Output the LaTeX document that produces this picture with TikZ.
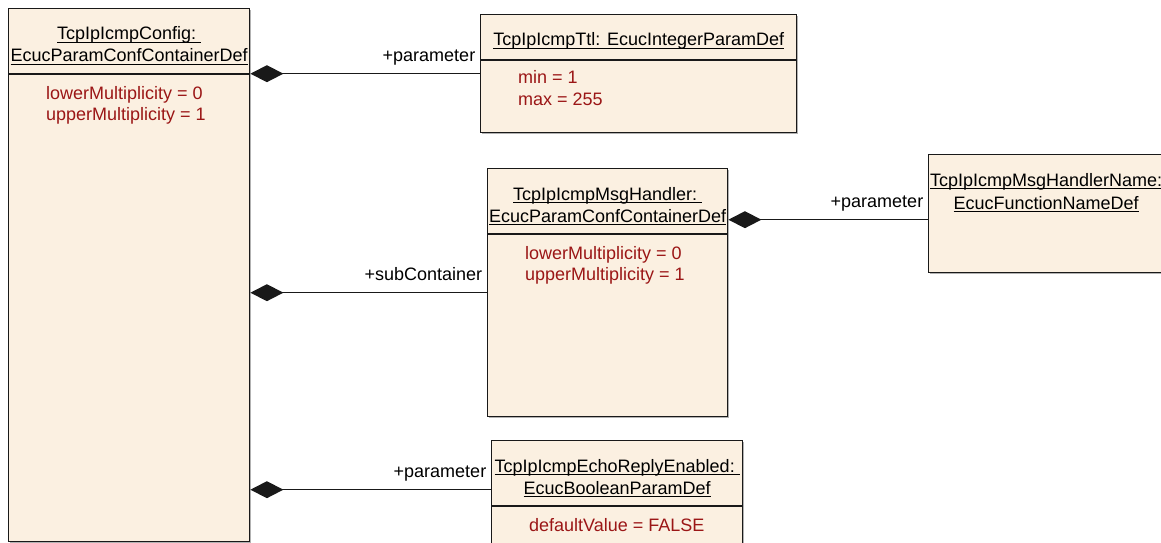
\documentclass[tikz,border=0pt]{standalone}
\usepackage{fontspec}
\setmainfont{Liberation Sans}
\usetikzlibrary{arrows.meta,shadows}

\definecolor{boxfill}{RGB}{251,240,225}
\definecolor{attrred}{RGB}{155,22,22}
\newsavebox{\umlbox}
\newcommand{\umlul}[1]{\sbox{\umlbox}{#1}\rlap{\rule[-3pt]{\wd\umlbox}{1pt}}\usebox{\umlbox}}

\tikzset{
  classbox/.style={draw=black!90, line width=1.4pt, fill=boxfill, anchor=north west,
    inner sep=0pt, drop shadow={shadow xshift=1.5pt, shadow yshift=-1.5pt, fill=black!60}},
  sep/.style={line width=1.4pt, draw=black!90},
  umltitle/.style={anchor=base, inner sep=0pt, font=\fontsize{18}{22}\selectfont},
  umlattr/.style={anchor=base west, inner sep=0pt, text=attrred, font=\fontsize{18}{22}\selectfont},
  role/.style={anchor=base east, inner sep=0pt, xshift=-4pt, yshift=12pt, font=\fontsize{18}{22}\selectfont},
  comp/.style={{Diamond[length=33pt,width=17pt]}-, line width=1.5pt, draw=black!90}
}

\begin{document}
\begin{tikzpicture}[x=1pt,y=-1pt]
\useasboundingbox (0,0) rectangle (1161,543);
\clip (0,0) rectangle (1161,543);

% classes
\node[classbox, minimum width=241pt, minimum height=533pt] (config) at (8,8) {};
\node[classbox, minimum width=316pt, minimum height=118pt] (ttl) at (480,14) {};
\node[classbox, minimum width=240pt, minimum height=248pt] (msg) at (487,168) {};
\node[classbox, minimum width=235pt, minimum height=118pt] (name) at (928,154) {};
\node[classbox, minimum width=251pt, minimum height=110pt] (echo) at (491,440) {};

% compartments
\draw[sep] ([yshift=-66pt]config.north west) -- ([yshift=-66pt]config.north east);
\draw[sep] ([yshift=-46pt]ttl.north west) -- ([yshift=-46pt]ttl.north east);
\draw[sep] ([yshift=-66pt]msg.north west) -- ([yshift=-66pt]msg.north east);
\draw[sep] ([yshift=-66pt]echo.north west) -- ([yshift=-66pt]echo.north east);

% names
\node[umltitle] (configT1) at ([yshift=-32pt]config.north) {\umlul{TcpIpIcmpConfig:~}};
\node[umltitle] (configT2) at ([yshift=-54pt]config.north) {\umlul{EcucParamConfContainerDef}};
\node[umltitle] (ttlT1) at ([yshift=-32pt]ttl.north) {\umlul{TcpIpIcmpTtl: EcucIntegerParamDef}};
\node[umltitle] (msgT1) at ([yshift=-32pt]msg.north) {\umlul{TcpIpIcmpMsgHandler:~}};
\node[umltitle] (msgT2) at ([yshift=-54pt]msg.north) {\umlul{EcucParamConfContainerDef}};
\node[umltitle] (nameT1) at ([yshift=-32pt]name.north) {\umlul{TcpIpIcmpMsgHandlerName:}};
\node[umltitle] (nameT2) at ([yshift=-55pt]name.north) {\umlul{EcucFunctionNameDef}};
\node[umltitle] (echoT1) at ([yshift=-32pt]echo.north) {\umlul{TcpIpIcmpEchoReplyEnabled:~}};
\node[umltitle] (echoT2) at ([yshift=-54pt]echo.north) {\umlul{EcucBooleanParamDef}};

% attributes
\node[umlattr] (configA1) at ([xshift=38pt,yshift=-91pt]config.north west) {lowerMultiplicity = 0};
\node[umlattr] (configA2) at ([xshift=38pt,yshift=-112pt]config.north west) {upperMultiplicity = 1};
\node[umlattr] (ttlA1) at ([xshift=38pt,yshift=-69pt]ttl.north west) {min = 1};
\node[umlattr] (ttlA2) at ([xshift=38pt,yshift=-91pt]ttl.north west) {max = 255};
\node[umlattr] (msgA1) at ([xshift=38pt,yshift=-91pt]msg.north west) {lowerMultiplicity = 0};
\node[umlattr] (msgA2) at ([xshift=38pt,yshift=-112pt]msg.north west) {upperMultiplicity = 1};
\node[umlattr] (echoA1) at ([xshift=38pt,yshift=-91pt]echo.north west) {defaultValue = FALSE};

% aggregations
\draw[comp] (config.east |- ttl.west) -- (ttl.west) node[role] (ttlR) {+parameter};
\draw[comp] (config.east |- msg.west) -- (msg.west) node[role] (msgR) {+subContainer};
\coordinate (nameport) at ([yshift=-6pt]name.west);
\draw[comp] (msg.east |- nameport) -- (nameport) node[role] (nameR) {+parameter};
\coordinate (echoport) at ([yshift=6pt]echo.west);
\draw[comp] (config.east |- echoport) -- (echoport) node[role] (echoR) {+parameter};
\end{tikzpicture}
\end{document}
